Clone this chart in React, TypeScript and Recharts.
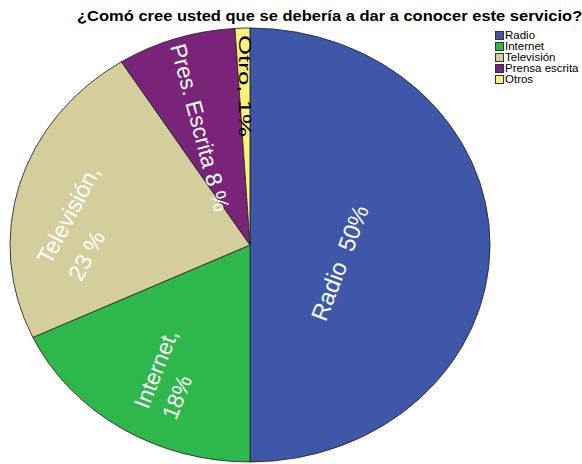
import React from 'react'
import { Cell, Legend, Pie, PieChart } from 'recharts'

// chart data
const categories = ['Radio', 'Internet', 'Televisión', 'Prensa escrita', 'Otros']
const percents = [50, 18, 23, 8, 1]
const sliceLabels = [['Radio  50%'], ['Internet,', '18%'], ['Televisión,', '23 %'], ['Pres. Escrita 8 %'], ['Otro, 1%']]
const colors = ['#3e57a8', '#2eb84b', '#d3ce9b', '#7a2479', '#f9f17a']
const title = '¿Comó cree usted que se debería a dar a conocer este servicio?'

const FONT = '"Liberation Sans", Arial, sans-serif'
const STRETCH_X = 1.106
const CX = 250
const CY = 245
const RADIUS = 217

// label placement: r = fraction of radius, da = shift from slice mid angle
const labelStyle = [
    { r: 0.423, da: -11.3, rot: -69, size: 23.5, color: '#fff', anchor: 'middle', sx: 1, gap: 0 },
    { r: 0.894, da: 0.7, rot: -68.5, size: 22.5, color: '#fff', anchor: 'start', sx: 1, gap: 30 },
    { r: 0.925, da: 22.2, rot: -62, size: 23, color: '#fff', anchor: 'start', sx: 1, gap: 35 },
    { r: 0.588, da: 5, rot: 75, size: 22.5, color: '#fff', anchor: 'middle', sx: 1, gap: 0 },
    { r: 0.733, da: 0, rot: 90, size: 16.5, color: '#000', anchor: 'middle', sx: 1.57, gap: 0 },
]

const data = categories.map((name, i) => ({ name, value: percents[i] }))

const renderLabel = (props: any) => {
    const i = props.index
    const s = labelStyle[i]
    const cx = props.cx ?? CX
    const cy = props.cy ?? CY
    const R = props.outerRadius ?? RADIUS
    const a = ((props.midAngle + s.da) * Math.PI) / 180
    const x = cx + s.r * R * Math.cos(a)
    const y = cy - s.r * R * Math.sin(a)
    const lines = sliceLabels[i]
    return (
        <text
            key={'lbl' + i}
            transform={`translate(${x} ${y}) rotate(${s.rot}) scale(${s.sx} 1)`}
            x={0}
            y={0}
            fill={s.color}
            fontSize={s.size}
            fontFamily={FONT}
            textAnchor={s.anchor}
            dominantBaseline={s.anchor === 'middle' ? 'central' : 'auto'}
            style={{ whiteSpace: 'pre' }}
        >
            {lines.map((t, j) => (
                <tspan key={j} x={0} dy={j === 0 ? 0 : s.gap}>
                    {t}
                </tspan>
            ))}
        </text>
    )
}

const LegendBox = () => (
    <div style={{ fontFamily: FONT, fontSize: 11.5, lineHeight: '11px', color: '#000' }}>
        {categories.map((c, i) => (
            <div key={c} style={{ display: 'flex', alignItems: 'center', height: 11 }}>
                <span
                    style={{
                        width: 7,
                        height: 7,
                        background: colors[i],
                        border: '0.5px solid #333',
                        marginRight: 1,
                        display: 'inline-block',
                    }}
                />
                <span style={{ whiteSpace: 'nowrap' }}>{c}</span>
            </div>
        ))}
    </div>
)

const App = () => {
    return (
        <div style={{ position: 'absolute', left: 0, top: 0, width: 582, height: 464, background: '#fff', overflow: 'hidden' }}>
            <style>{`.recharts-pie-sector { transform: scaleX(${STRETCH_X}); transform-origin: ${CX}px ${CY}px; }`}</style>
            <div
                style={{
                    position: 'absolute',
                    left: 77,
                    top: 8,
                    fontFamily: FONT,
                    fontWeight: 'bold',
                    fontSize: 15,
                    lineHeight: '15px',
                    whiteSpace: 'nowrap',
                    transform: 'scaleX(1.1)',
                    transformOrigin: '0 0',
                    zIndex: 2,
                }}
            >
                {title}
            </div>
            <PieChart width={582} height={464} margin={{ top: 0, right: 0, bottom: 0, left: 0 }}>
                <Pie
                    data={data}
                    dataKey="value"
                    nameKey="name"
                    cx={CX}
                    cy={CY}
                    outerRadius={RADIUS}
                    startAngle={90}
                    endAngle={-270}
                    stroke="#222"
                    strokeWidth={0.8}
                    label={renderLabel}
                    labelLine={false}
                    isAnimationActive={false}
                >
                    {data.map((d, i) => (
                        <Cell key={d.name} fill={colors[i]} />
                    ))}
                </Pie>
                <Legend
                    layout="vertical"
                    align="right"
                    verticalAlign="middle"
                    content={() => <LegendBox />}
                    wrapperStyle={{ left: 495, top: 30, width: 87 }}
                />
            </PieChart>
        </div>
    )
}

export default App
